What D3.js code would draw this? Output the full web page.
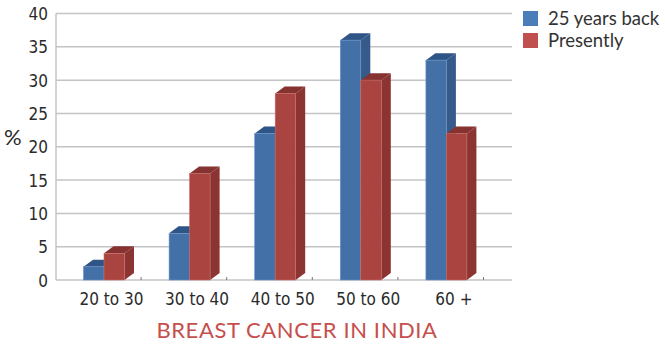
<!DOCTYPE html>
<html>
<head>
<meta charset="utf-8">
<script src="https://cdn.jsdelivr.net/npm/d3@7/dist/d3.min.js"></script>
<style>
  html, body { margin: 0; padding: 0; background: #fff; }
  svg { display: block; }
  .tick-label { font-family: "DejaVu Sans", sans-serif; font-stretch: condensed; }
</style>
</head>
<body>
<svg id="chart" width="665" height="344"></svg>
<script>
// Age groups and share of breast cancer cases (%)
const categories = ["20 to 30", "30 to 40", "40 to 50", "50 to 60", "60 +"];
const seriesNames = ["25 years back", "Presently"];
const yearsBack = [2, 7, 22, 36, 33];
const presently = [4, 16, 28, 30, 22];
const yTicks = [0, 5, 10, 15, 20, 25, 30, 35, 40];

const svg = d3.select("#chart");

const y = d3.scaleLinear().domain([0, 40]).range([280, 13.5]);
const x = d3.scaleBand().domain(categories).range([55.5, 483.5]).padding(0);
const sub = d3.scaleBand().domain(seriesNames).range([28, 69]).padding(0);

const depthX = 9.5, depthY = -7;
const wallRight = 512;
const textFont = "Lato, 'Open Sans', sans-serif";

const palette = {
  "25 years back": { front: "#4470a8", edge: "#6a92c6", top: "#2f5587", side: "#365b8b", legend: "#4a7ebb" },
  "Presently":     { front: "#aa4441", edge: "#c66b68", top: "#863230", side: "#8b3432", legend: "#c0504d" }
};

// Gridlines on the back wall
svg.append("g").selectAll("line").data(yTicks).join("line")
  .attr("x1", 56).attr("x2", wallRight)
  .attr("y1", d => y(d)).attr("y2", d => y(d))
  .attr("stroke", "#c4c4c8").attr("stroke-width", 1.5);

// Vertical axis line
svg.append("line")
  .attr("x1", 56).attr("x2", 56).attr("y1", y(40)).attr("y2", y(0))
  .attr("stroke", "#c4c4c8").attr("stroke-width", 1.5);

// Category boundary ticks
svg.append("g").selectAll("line").data(categories.slice(1).concat(["__end"])).join("line")
  .attr("x1", d => d === "__end" ? x.range()[1] : x(d))
  .attr("x2", d => d === "__end" ? x.range()[1] : x(d))
  .attr("y1", y(0) - 3).attr("y2", y(0))
  .attr("stroke", "#777").attr("stroke-width", 1);

// Y tick labels
svg.append("g").selectAll("text").data(yTicks).join("text")
  .attr("class", "tick-label")
  .attr("x", 48).attr("y", d => y(d) + 6.5)
  .attr("text-anchor", "end")
  .attr("font-size", 17).attr("fill", "#2a2a2a")
  .text(d => d);

// "%" axis title
svg.append("text")
  .attr("x", 4).attr("y", 145)
  .attr("font-family", textFont)
  .attr("font-size", 22).attr("fill", "#2a2a2a")
  .text("%");

// 3D bars
const rows = [];
categories.forEach((c, i) => {
  rows.push({ cat: c, series: seriesNames[0], value: yearsBack[i] });
  rows.push({ cat: c, series: seriesNames[1], value: presently[i] });
});

const bars = svg.append("g").selectAll("g").data(rows).join("g");
bars.each(function (d) {
  const g = d3.select(this);
  const x0 = x(d.cat) + sub(d.series);
  const w = sub.bandwidth();
  const y0 = y(d.value), yb = y(0);
  const col = palette[d.series];
  // side face
  g.append("path")
    .attr("d", `M${x0 + w},${y0} L${x0 + w + depthX},${y0 + depthY} L${x0 + w + depthX},${yb + depthY} L${x0 + w},${yb} Z`)
    .attr("fill", col.side);
  // top face
  g.append("path")
    .attr("d", `M${x0},${y0} L${x0 + depthX},${y0 + depthY} L${x0 + w + depthX},${y0 + depthY} L${x0 + w},${y0} Z`)
    .attr("fill", col.top);
  // front face
  g.append("rect")
    .attr("x", x0).attr("y", y0)
    .attr("width", w).attr("height", yb - y0)
    .attr("fill", col.front)
    .attr("stroke", col.edge).attr("stroke-width", 0.6);
});

// Category labels
svg.append("g").selectAll("text").data(categories).join("text")
  .attr("class", "tick-label")
  .attr("x", d => x(d) + 56).attr("y", 305)
  .attr("text-anchor", "middle")
  .attr("font-size", 17).attr("fill", "#2a2a2a")
  .text(d => d);

// Legend
const legend = svg.append("g").selectAll("g").data(seriesNames).join("g")
  .attr("transform", (d, i) => `translate(523, ${11 + i * 22})`);
legend.append("rect")
  .attr("width", 15).attr("height", 15)
  .attr("fill", d => palette[d].legend);
legend.append("text")
  .attr("x", 25).attr("y", 14)
  .attr("font-family", textFont)
  .attr("font-size", 18.5).attr("fill", "#333")
  .text(d => d);

// Chart title
svg.append("text")
  .attr("x", 297).attr("y", 338)
  .attr("text-anchor", "middle")
  .attr("font-family", textFont)
  .attr("font-size", 22).attr("letter-spacing", 0.6).attr("fill", "#c64f4d")
  .text("BREAST CANCER IN INDIA");
</script>
</body>
</html>
